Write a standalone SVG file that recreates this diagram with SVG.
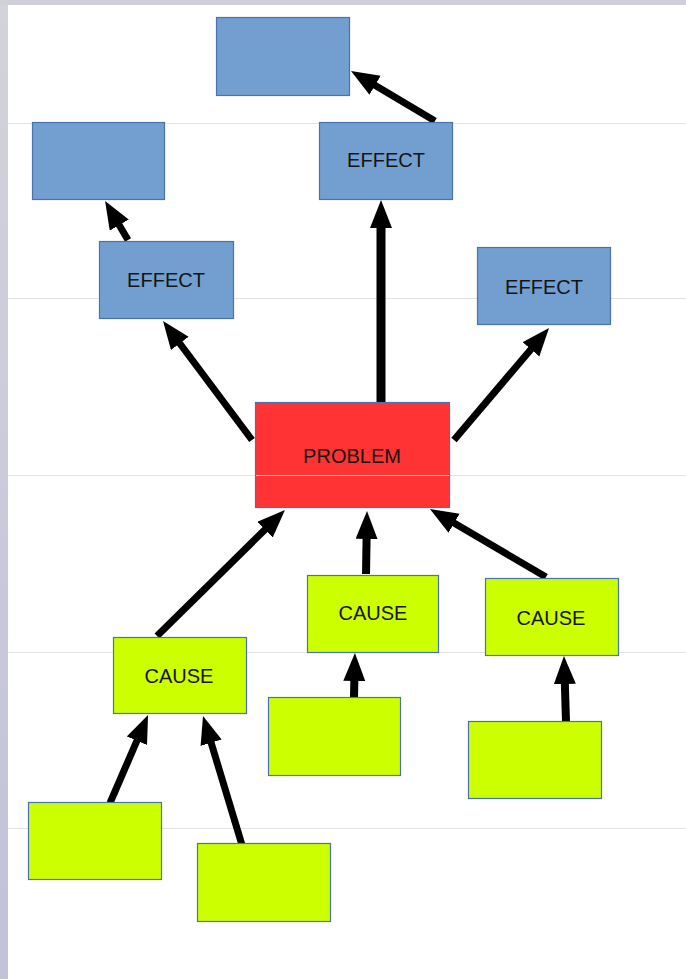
<svg xmlns="http://www.w3.org/2000/svg" width="686" height="979" viewBox="0 0 686 979">
  <defs>
    <linearGradient id="side" x1="0" y1="0" x2="0" y2="1">
      <stop offset="0" stop-color="#d3d3dc"/>
      <stop offset="1" stop-color="#c2c2d8"/>
    </linearGradient>
    <marker id="ah" markerUnits="userSpaceOnUse" markerWidth="30" markerHeight="24" refX="8" refY="11" orient="auto">
      <path d="M0,0 L28,11 L0,22 z" fill="#000"/>
    </marker>
    <style>
      .grid { stroke: #e2e2e6; stroke-width: 1; }
      .box { stroke: #4a72b0; stroke-width: 1.2; }
      .blue { fill: #729fcf; }
      .red { fill: #ff3333; }
      .green { fill: #ccff00; }
      .lbl { font-family: "Liberation Sans", Arial, sans-serif; font-size: 20px; fill: #141414; text-anchor: middle; }
      .arr { stroke: #000; stroke-width: 7; fill: none; marker-end: url(#ah); }
    </style>
  </defs>
  <rect x="0" y="0" width="686" height="979" fill="#ffffff"/>
  <rect x="0" y="0" width="8" height="979" fill="url(#side)"/>
  <rect x="0" y="0" width="686" height="5" fill="#d0d0da"/>
  <g id="grid">
    <line class="grid" x1="8" y1="123.5" x2="686" y2="123.5"/>
    <line class="grid" x1="8" y1="298.5" x2="686" y2="298.5"/>
    <line class="grid" x1="8" y1="475.5" x2="686" y2="475.5"/>
    <line class="grid" x1="8" y1="652.5" x2="686" y2="652.5"/>
    <line class="grid" x1="8" y1="828.5" x2="686" y2="828.5"/>
  </g>
  <g id="connectors">
    <line class="arr" x1="435" y1="121" x2="368.2" y2="81.2"/>
    <line class="arr" x1="128" y1="240" x2="115.2" y2="218.2"/>
    <line class="arr" x1="381" y1="402" x2="381" y2="220" style="stroke-width:9"/>
    <line class="arr" x1="252" y1="440" x2="175" y2="337"/>
    <line class="arr" x1="454" y1="440" x2="536.1" y2="343.2"/>
    <line class="arr" x1="157" y1="636" x2="270.7" y2="524"/>
    <line class="arr" x1="366" y1="574" x2="366.7" y2="531" style="stroke-width:8"/>
    <line class="arr" x1="546" y1="577" x2="447.2" y2="519.1"/>
    <line class="arr" x1="354" y1="697" x2="354.5" y2="673" style="stroke-width:8"/>
    <line class="arr" x1="566" y1="721" x2="564.6" y2="676" style="stroke-width:8"/>
    <line class="arr" x1="110" y1="803" x2="140.1" y2="733.4"/>
    <line class="arr" x1="242" y1="845" x2="208.8" y2="735.1"/>
  </g>
  <g id="effect-top-blank"><rect class="box blue" x="216.5" y="17.5" width="133" height="78"/></g>
  <g id="effect-left-blank"><rect class="box blue" x="32.5" y="122.5" width="132" height="77"/></g>
  <g id="effect-center"><rect class="box blue" x="319.5" y="122.5" width="133" height="77"/><text class="lbl" x="386" y="167">EFFECT</text></g>
  <g id="effect-left"><rect class="box blue" x="99.5" y="241.5" width="134" height="77"/><text class="lbl" x="166" y="287">EFFECT</text></g>
  <g id="effect-right"><rect class="box blue" x="477.5" y="247.5" width="133" height="77"/><text class="lbl" x="544" y="294">EFFECT</text></g>
  <g id="problem"><rect class="box red" x="255.5" y="402.5" width="194" height="105"/><line x1="256" y1="475.5" x2="449" y2="475.5" stroke="#ffffff" stroke-opacity="0.8" stroke-width="1"/><text class="lbl" x="352" y="463">PROBLEM</text></g>
  <g id="cause-center"><rect class="box green" x="307.5" y="575.5" width="131" height="77"/><text class="lbl" x="373" y="620">CAUSE</text></g>
  <g id="cause-right"><rect class="box green" x="485.5" y="578.5" width="133" height="77"/><text class="lbl" x="551" y="625">CAUSE</text></g>
  <g id="cause-left"><rect class="box green" x="113.5" y="637.5" width="133" height="76"/><text class="lbl" x="179" y="683">CAUSE</text></g>
  <g id="cause-center-sub"><rect class="box green" x="268.5" y="697.5" width="132" height="78"/></g>
  <g id="cause-right-sub"><rect class="box green" x="468.5" y="721.5" width="133" height="77"/></g>
  <g id="cause-left-sub1"><rect class="box green" x="28.5" y="802.5" width="133" height="77"/></g>
  <g id="cause-left-sub2"><rect class="box green" x="197.5" y="843.5" width="133" height="78"/></g>
</svg>
